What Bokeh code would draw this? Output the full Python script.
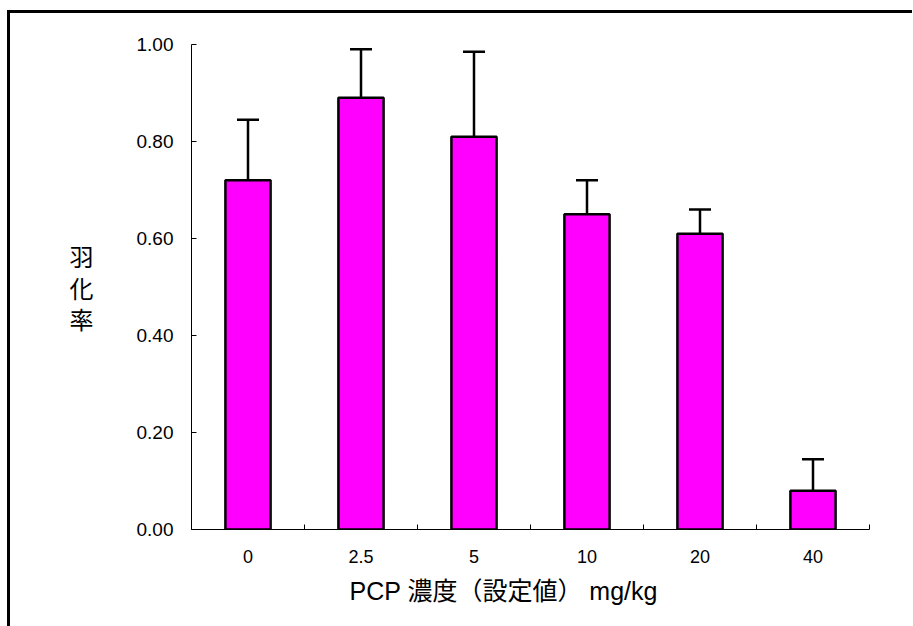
from bokeh.plotting import figure
from bokeh.models import (ColumnDataSource, Range1d, FixedTicker, Whisker,
                          TeeHead, Title)
from bokeh.embed import file_html
from bokeh.resources import INLINE

# PCP concentration groups (set values, mg/kg)
categories = ["0", "2.5", "5", "10", "20", "40"]
# mean emergence rate per group
emergence = [0.72, 0.89, 0.81, 0.65, 0.61, 0.08]
# standard deviation (upper error bar)
std_dev = [0.125, 0.10, 0.175, 0.07, 0.05, 0.065]
y_ticks = [0.0, 0.2, 0.4, 0.6, 0.8, 1.0]

centers = [i + 0.5 for i in range(len(categories))]
upper = [m + s for m, s in zip(emergence, std_dev)]

source = ColumnDataSource(data=dict(x=centers, top=emergence,
                                    lower=emergence, upper=upper))

LATIN = "Liberation Sans, Arial, Noto Sans CJK JP"
CJK = "Noto Sans CJK JP"

p = figure(frame_width=678, frame_height=485, output_backend="svg",
           toolbar_location=None,
           x_range=Range1d(0, len(categories)), y_range=Range1d(0, 1),
           min_border_left=181, min_border_right=43,
           min_border_top=31, min_border_bottom=97,
           background_fill_color="white", border_fill_color="white")
p.styles = {"margin-left": "7px", "margin-top": "10px",
            "border-left": "3px solid black", "border-top": "3px solid black"}
p.outline_line_color = None
p.xgrid.grid_line_color = None
p.ygrid.grid_line_color = None

p.vbar(x="x", top="top", width=0.4, bottom=0, source=source,
       fill_color="#FF00FF", line_color="black", line_width=2.5)

err = Whisker(base="x", upper="upper", lower="lower", source=source,
              line_color="black", line_width=2.5,
              upper_head=TeeHead(size=22, line_color="black", line_width=2.5),
              lower_head=None, level="overlay")
p.add_layout(err)

# x axis: labels at group centres, small inward ticks at group boundaries
xa = p.xaxis[0]
xa.ticker = FixedTicker(ticks=centers,
                        minor_ticks=list(range(len(categories) + 1)))
xa.major_label_overrides = {c: lab for c, lab in zip(centers, categories)}
xa.major_tick_in = 0
xa.major_tick_out = 0
xa.minor_tick_in = 5
xa.minor_tick_out = 0
xa.minor_tick_line_color = "black"
xa.axis_line_color = "black"
xa.major_label_text_font = LATIN
xa.major_label_text_font_size = "18px"
xa.major_label_text_color = "black"
xa.major_label_standoff = 20

ya = p.yaxis[0]
ya.ticker = FixedTicker(ticks=y_ticks, minor_ticks=[])
ya.major_label_overrides = {t: f"{t:.2f}" for t in y_ticks}
ya.major_tick_in = 5
ya.major_tick_out = 0
ya.axis_line_color = "black"
ya.major_tick_line_color = "black"
ya.major_label_text_font = LATIN
ya.major_label_text_font_size = "19px"
ya.major_label_text_color = "black"
ya.major_label_standoff = 18

# y title: characters stacked vertically
ya.axis_label = "羽\n化\n率"
ya.axis_label_orientation = "horizontal"
ya.axis_label_text_font = CJK
ya.axis_label_text_font_size = "24px"
ya.axis_label_text_font_style = "normal"
ya.axis_label_text_color = "black"
ya.axis_label_text_line_height = 0.9
ya.axis_label_standoff = 40

# x title below the axis
p.add_layout(Title(text="PCP 濃度（設定値）  mg/kg", align="left", offset=158,
                   text_font=LATIN, text_font_size="25px",
                   text_font_style="normal", text_color="black",
                   standoff=18), "below")

open("out.html", "w").write(file_html(p, INLINE))
